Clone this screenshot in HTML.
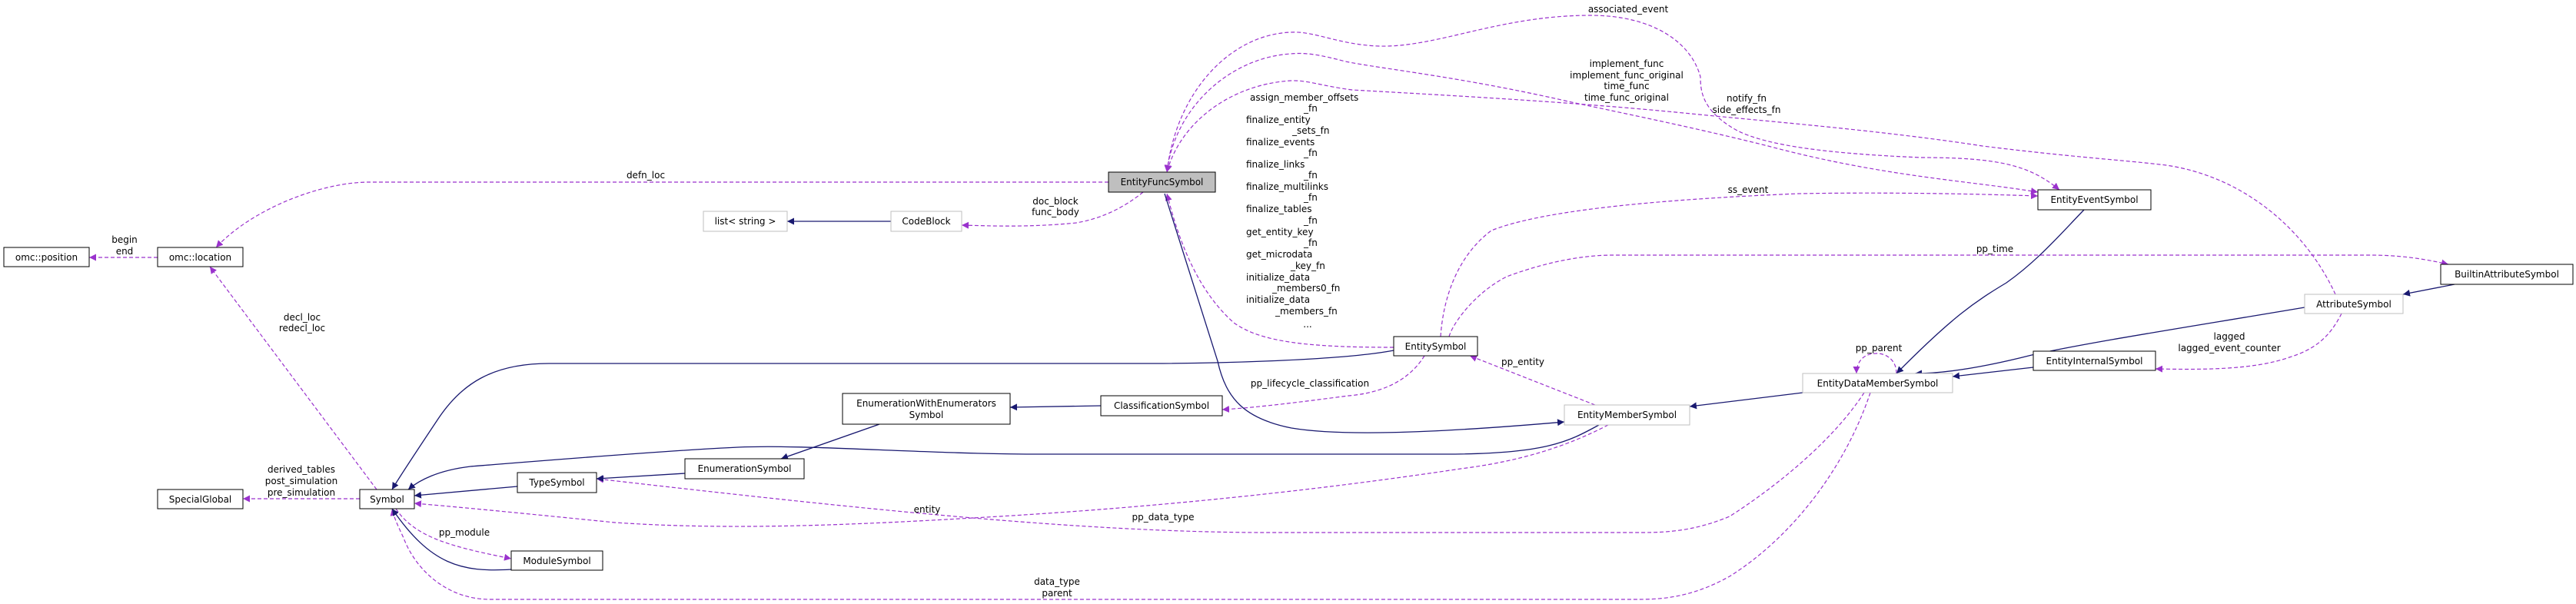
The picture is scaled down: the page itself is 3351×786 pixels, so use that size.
<!DOCTYPE html>
<html><head><meta charset="utf-8"><style>
html,body{margin:0;padding:0;background:#fff;}
svg{display:block;}
text{font-family:"DejaVu Sans","Liberation Sans",sans-serif;font-size:12px;fill:#000;}
.d{fill:none;stroke:#9a32cd;stroke-width:1.2;stroke-dasharray:5,3;}
.s{fill:none;stroke:#191970;stroke-width:1.3;}
.nb{fill:#fff;stroke:#000;stroke-width:1;}
.ng{fill:#fff;stroke:#bfbfbf;stroke-width:1;}
</style></head><body>
<svg width="3351" height="786" viewBox="0 0 3351 786" xmlns="http://www.w3.org/2000/svg">
<defs>
<marker id="ap" viewBox="0 0 10 10" refX="10" refY="5" markerWidth="9" markerHeight="9" markerUnits="userSpaceOnUse" orient="auto-start-reverse"><path d="M0,0 L10,5 L0,10 z" fill="#9a32cd"/></marker>
<marker id="an" viewBox="0 0 10 10" refX="10" refY="5" markerWidth="9" markerHeight="9" markerUnits="userSpaceOnUse" orient="auto-start-reverse"><path d="M0,0 L10,5 L0,10 z" fill="#191970"/></marker>
</defs>

<!-- edges dashed -->
<path class="d" d="M1442,237 L480,237 C420,237 330,270 281,322" marker-end="url(#ap)"/>
<path class="d" d="M205,335 L116,335" marker-end="url(#ap)"/>
<path class="d" d="M490,637 L273,347" marker-end="url(#ap)"/>
<path class="d" d="M468,649 L316,649" marker-end="url(#ap)"/>
<path class="d" d="M515,662 C540,700 590,712 665,727" marker-end="url(#ap)"/>
<path class="d" d="M2467,486 C2467,466 2450,459 2440,460 C2425,460 2415,470 2415,486" marker-end="url(#ap)"/>
<path class="d" d="M2075,527 L1912,463" marker-end="url(#ap)"/>
<path class="d" d="M1853,463 C1830,500 1790,512 1754,515 C1700,522 1640,530 1590,533" marker-end="url(#ap)"/>
<path class="d" d="M1487,250 C1460,272 1430,285 1400,290 C1340,296 1290,294 1251,293" marker-end="url(#ap)"/>
<path class="d" d="M1813,452 C1700,452 1640,445 1605,420 C1560,380 1535,320 1518,252" marker-end="url(#ap)"/>
<path class="d" d="M2679,247 C2640,215 2600,205 2499,205 C2380,200 2300,190 2260,170 C2215,145 2212,120 2212,100 C2200,55 2150,20 2069,20 C1950,20 1870,62 1794,60 C1740,58 1710,40 1679,42 C1600,45 1530,120 1518,224" marker-end="url(#ap)" marker-start="url(#ap)"/>
<path class="d" d="M2651,250 C2560,235 2450,230 2300,190 C2200,165 2100,145 2040,132 C1900,100 1800,90 1750,80 C1720,72 1700,68 1679,70 C1600,75 1528,140 1518,224" marker-end="url(#ap)" marker-start="url(#ap)"/>
<path class="d" d="M3038,383 C3000,300 2920,230 2818,215 C2760,208 2700,205 2579,190 C2450,170 2300,158 2200,148 C2050,133 1900,125 1759,117 C1720,112 1700,104 1679,105 C1600,110 1535,160 1518,224" marker-end="url(#ap)"/>
<path class="d" d="M1874,438 C1878,380 1900,330 1940,300 C1990,280 2100,262 2339,252 C2450,250 2560,252 2651,255" marker-end="url(#ap)"/>
<path class="d" d="M1885,438 C1890,420 1920,380 1960,360 C2000,345 2050,332 2098,332 L3082,332 C3120,332 3150,336 3185,344" marker-end="url(#ap)"/>
<path class="d" d="M3046,408 C3030,440 3010,455 2978,465 C2930,482 2860,481 2804,480" marker-end="url(#ap)"/>
<path class="d" d="M2425,511 C2380,580 2300,640 2250,672 C2200,693 2160,693 2131,693 L1650,693 C1400,693 1100,660 776,623" marker-end="url(#ap)"/>
<path class="d" d="M2092,553 C2040,580 1980,600 1900,610 C1700,640 1500,660 1300,672 C1100,684 950,690 800,680 C700,670 600,660 539,655" marker-end="url(#ap)"/>
<path class="d" d="M2433,511 C2400,610 2330,700 2250,750 C2200,778 2160,780 2131,780 L638,780 C580,780 540,740 525,700 C518,685 513,675 510,662" marker-end="url(#ap)"/>

<!-- edges solid -->
<path class="s" d="M665,741 C600,745 560,735 510,662" marker-end="url(#an)"/>
<path class="s" d="M673,633 L539,645" marker-end="url(#an)"/>
<path class="s" d="M891,616 L776,623" marker-end="url(#an)"/>
<path class="s" d="M1144,552 L1016,597" marker-end="url(#an)"/>
<path class="s" d="M1432,528 L1314,530" marker-end="url(#an)"/>
<path class="s" d="M1813,456 C1740,470 1560,473 1500,473 L714,473 C640,473 600,500 570,545 C540,590 520,620 510,637" marker-end="url(#an)"/>
<path class="s" d="M2080,553 C2040,575 2010,591 1880,591 L1355,591 C1200,591 1050,578 960,582 C870,586 700,600 612,607 C570,612 545,625 531,637" marker-end="url(#an)"/>
<path class="s" d="M1515,252 L1584,470 C1595,520 1620,545 1680,557 C1740,567 1850,565 2035,549" marker-end="url(#an)"/>
<path class="s" d="M1159,288 L1024,288" marker-end="url(#an)"/>
<path class="s" d="M3193,370 L3126,383" marker-end="url(#an)"/>
<path class="s" d="M2998,400 C2850,425 2720,445 2643,462 C2580,478 2530,486 2491,486" marker-end="url(#an)"/>
<path class="s" d="M2711,273 C2680,305 2650,340 2610,368 C2570,392 2540,412 2467,486" marker-end="url(#an)"/>
<path class="s" d="M2645,478 L2540,490" marker-end="url(#an)"/>
<path class="s" d="M2345,511 L2198,529" marker-end="url(#an)"/>

<!-- nodes -->
<rect class="nb" x="5" y="322" width="111" height="25"/><text x="60.5" y="339" text-anchor="middle">omc::position</text>
<rect class="nb" x="205" y="322" width="111" height="25"/><text x="260.5" y="339" text-anchor="middle">omc::location</text>
<rect class="nb" x="205" y="637" width="111" height="25"/><text x="260.5" y="654" text-anchor="middle">SpecialGlobal</text>
<rect class="nb" x="468" y="637" width="71" height="25"/><text x="503.5" y="654" text-anchor="middle">Symbol</text>
<rect class="nb" x="673" y="615" width="103" height="26"/><text x="724.5" y="632" text-anchor="middle">TypeSymbol</text>
<rect class="nb" x="665" y="717" width="119" height="25"/><text x="724.5" y="734" text-anchor="middle">ModuleSymbol</text>
<rect class="nb" x="891" y="597" width="155" height="26"/><text x="968.5" y="614" text-anchor="middle">EnumerationSymbol</text>
<rect class="nb" x="1096" y="512" width="218" height="40"/><text x="1205" y="529" text-anchor="middle">EnumerationWithEnumerators</text><text x="1205" y="544" text-anchor="middle">Symbol</text>
<rect class="nb" x="1432" y="515" width="158" height="26"/><text x="1511" y="532" text-anchor="middle">ClassificationSymbol</text>
<rect class="ng" x="915" y="275" width="109" height="26"/><text x="969.5" y="292" text-anchor="middle">list&lt; string &gt;</text>
<rect class="ng" x="1159" y="275" width="92" height="26"/><text x="1205" y="292" text-anchor="middle">CodeBlock</text>
<rect x="1442" y="224" width="139" height="26" fill="#bfbfbf" stroke="#000"/><text x="1511.5" y="241" text-anchor="middle">EntityFuncSymbol</text>
<rect class="nb" x="1813" y="438" width="109" height="25"/><text x="1867.5" y="455" text-anchor="middle">EntitySymbol</text>
<rect class="ng" x="2035" y="527" width="163" height="26"/><text x="2116.5" y="544" text-anchor="middle">EntityMemberSymbol</text>
<rect class="ng" x="2345" y="486" width="195" height="25"/><text x="2442.5" y="503" text-anchor="middle">EntityDataMemberSymbol</text>
<rect class="nb" x="2651" y="247" width="147" height="26"/><text x="2724.5" y="264" text-anchor="middle">EntityEventSymbol</text>
<rect class="nb" x="2645" y="457" width="159" height="25"/><text x="2724.5" y="474" text-anchor="middle">EntityInternalSymbol</text>
<rect class="ng" x="2998" y="383" width="128" height="25"/><text x="3062" y="400" text-anchor="middle">AttributeSymbol</text>
<rect class="nb" x="3175" y="344" width="172" height="26"/><text x="3261" y="361" text-anchor="middle">BuiltinAttributeSymbol</text>

<!-- labels -->
<g text-anchor="middle">
<text x="162" y="316">begin</text><text x="162" y="331">end</text>
<text x="840" y="232">defn_loc</text>
<text x="393" y="417">decl_loc</text><text x="393" y="431">redecl_loc</text>
<text x="392" y="615">derived_tables</text><text x="392" y="630">post_simulation</text><text x="392" y="645">pre_simulation</text>
<text x="604" y="697">pp_module</text>
<text x="1373" y="266">doc_block</text><text x="1373" y="280">func_body</text>
<text x="2118" y="16">associated_event</text>
<text x="2116" y="87">implement_func</text><text x="2116" y="102">implement_func_original</text><text x="2116" y="116">time_func</text><text x="2116" y="131">time_func_original</text>
<text x="2272" y="132">notify_fn</text><text x="2272" y="147">side_effects_fn</text>
<text x="2274" y="251">ss_event</text>
<text x="2595" y="328">pp_time</text>
<text x="2900" y="442">lagged</text><text x="2900" y="457">lagged_event_counter</text>
<text x="2444" y="457">pp_parent</text>
<text x="1981" y="475">pp_entity</text>
<text x="1704" y="503">pp_lifecycle_classification</text>
<text x="1206" y="667">entity</text>
<text x="1513" y="677">pp_data_type</text>
<text x="1375" y="761">data_type</text><text x="1375" y="776">parent</text>
<text x="1701" y="426">...</text>
</g>
<g>
<text x="1626" y="131">assign_member_offsets</text>
<text x="1696" y="145">_fn</text>
<text x="1621" y="160">finalize_entity</text>
<text x="1681" y="174">_sets_fn</text>
<text x="1621" y="189">finalize_events</text>
<text x="1696" y="203">_fn</text>
<text x="1621" y="218">finalize_links</text>
<text x="1696" y="232">_fn</text>
<text x="1621" y="247">finalize_multilinks</text>
<text x="1696" y="261">_fn</text>
<text x="1621" y="276">finalize_tables</text>
<text x="1696" y="291">_fn</text>
<text x="1621" y="306">get_entity_key</text>
<text x="1696" y="320">_fn</text>
<text x="1621" y="335">get_microdata</text>
<text x="1679" y="350">_key_fn</text>
<text x="1621" y="365">initialize_data</text>
<text x="1655" y="379">_members0_fn</text>
<text x="1621" y="394">initialize_data</text>
<text x="1659" y="409">_members_fn</text>
</g>
</svg>
</body></html>
